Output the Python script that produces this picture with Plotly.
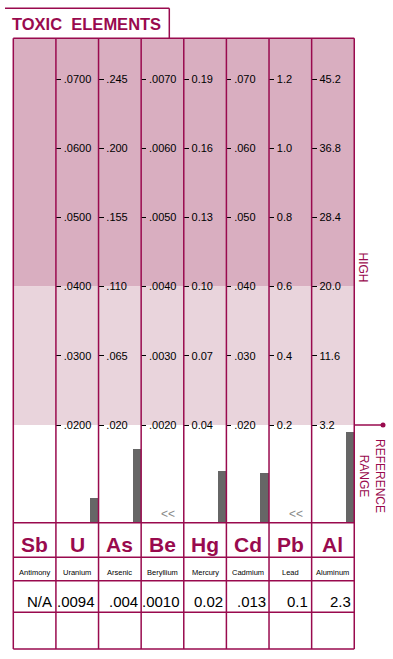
import plotly.graph_objects as go

# ---------------- data ----------------
symbols = ["Sb", "U", "As", "Be", "Hg", "Cd", "Pb", "Al"]
names = ["Antimony", "Uranium", "Arsenic", "Beryllium", "Mercury", "Cadmium", "Lead", "Aluminum"]
result_labels = ["N/A", ".0094", ".004", ".0010", "0.02", ".013", "0.1", "2.3"]
result_values = [None, 0.0094, 0.004, 0.0010, 0.02, 0.013, 0.1, 2.3]
below_range = [False, False, False, True, False, False, True, False]
scale_labels = [
    [],
    [".0200", ".0300", ".0400", ".0500", ".0600", ".0700"],
    [".020", ".065", ".110", ".155", ".200", ".245"],
    [".0020", ".0030", ".0040", ".0050", ".0060", ".0070"],
    ["0.04", "0.07", "0.10", "0.13", "0.16", "0.19"],
    [".020", ".030", ".040", ".050", ".060", ".070"],
    ["0.2", "0.4", "0.6", "0.8", "1.0", "1.2"],
    ["3.2", "11.6", "20.0", "28.4", "36.8", "45.2"],
]
title_text = "TOXIC  ELEMENTS"

# ---------------- layout constants ----------------
W, H = 393, 659
LEFT, COLW = 13.3, 42.62
NCOL = len(symbols)
RIGHT = LEFT + NCOL * COLW
TOP, BOTTOM = 38.3, 522.7
TICK0_PX, STEP_PX = 425.0, 69.2
ROWS = [522.7, 557.3, 580.7, 612.3, 649.0]

MAROON = "#990a4e"
DARK = "#d9aec0"
LIGHT = "#e9d4dc"
BAR = "#666666"
FONT = "Liberation Sans, Arial, sans-serif"


def px(x):
    return x / W


def py(y):
    return 1 - y / H


fig = go.Figure()
layout = dict(
    width=W, height=H, margin=dict(l=0, r=0, t=0, b=0),
    paper_bgcolor="white", plot_bgcolor="rgba(0,0,0,0)",
    showlegend=False, font=dict(family=FONT, color="black"),
)
shapes = []
annotations = []
ranges = []

for i, sym in enumerate(symbols):
    n = "" if i == 0 else str(i + 1)
    xd = [px(LEFT + i * COLW), px(LEFT + (i + 1) * COLW)]
    labels = scale_labels[i]
    if labels:
        vals = [float(l) for l in labels]
        t0, step = vals[0], vals[1] - vals[0]
        lo = t0 - (BOTTOM - TICK0_PX) / STEP_PX * step
        hi = t0 + (TICK0_PX - TOP) / STEP_PX * step
    else:
        vals, lo, hi = [], 0, 1
    ranges.append((vals, lo, hi))
    layout["xaxis" + n] = dict(
        domain=xd, anchor="y" + n, type="category", range=[-0.9, 0.1],
        showticklabels=False, ticks="", showgrid=False, zeroline=False, showline=False,
        fixedrange=True,
    )
    layout["yaxis" + n] = dict(
        domain=[py(BOTTOM), py(TOP)], anchor="x" + n, range=[lo, hi],
        tickmode="array", tickvals=vals, ticktext=labels, ticks="inside" if labels else "",
        ticklen=5, tickwidth=1, tickcolor="black",
        ticklabelposition="inside", ticklabelstandoff=2,
        tickfont=dict(size=11, color="black", family=FONT),
        showgrid=False, zeroline=False, showline=False, showticklabels=bool(labels),
        fixedrange=True,
    )
    v = result_values[i]
    show_bar = v is not None and not below_range[i]
    fig.add_trace(go.Bar(
        x=[sym], y=[v - lo if show_bar else None], base=[lo], width=0.2,
        marker=dict(color=BAR, line=dict(width=0)),
        xaxis="x" + n, yaxis="y" + n, hoverinfo="skip",
    ))
    if below_range[i]:
        annotations.append(dict(
            text="<<", xref="x" + n + " domain", yref="y" + n + " domain",
            x=0.64, y=0.018, xanchor="center", yanchor="middle", showarrow=False,
            font=dict(size=12, color="#8a8a8a", family=FONT),
        ))

    cx = LEFT + (i + 0.5) * COLW
    annotations.append(dict(
        text="<b>%s</b>" % sym, xref="paper", yref="paper", x=px(cx), y=py(544.5),
        xanchor="center", yanchor="middle", showarrow=False,
        font=dict(size=21, color=MAROON, family=FONT),
    ))
    annotations.append(dict(
        text=names[i], xref="paper", yref="paper", x=px(cx), y=py(572),
        xanchor="center", yanchor="middle", showarrow=False,
        font=dict(size=7.5, color="black", family=FONT),
    ))
    annotations.append(dict(
        text=result_labels[i], xref="paper", yref="paper", x=px(LEFT + (i + 1) * COLW - 1.5), y=py(601.5),
        xanchor="right", yanchor="middle", showarrow=False,
        font=dict(size=15, color="black", family=FONT),
    ))

# shading bands tied to the uranium scale (ticks 0..2 light, above tick 2 dark)
uvals, ulo, uhi = ranges[1]
shapes.append(dict(type="rect", xref="paper", yref="y2", x0=px(LEFT), x1=px(RIGHT),
                   y0=uvals[2], y1=uhi, fillcolor=DARK, line=dict(width=0), layer="below"))
shapes.append(dict(type="rect", xref="paper", yref="y2", x0=px(LEFT), x1=px(RIGHT),
                   y0=uvals[0], y1=uvals[2], fillcolor=LIGHT, line=dict(width=0), layer="below"))

# grid lines of the table
LW = 1.5
for k in range(NCOL + 1):
    x = px(LEFT + k * COLW)
    shapes.append(dict(type="line", xref="paper", yref="paper", x0=x, x1=x,
                       y0=py(TOP), y1=py(ROWS[-1]), line=dict(color=MAROON, width=LW)))
for yy in [TOP] + ROWS:
    shapes.append(dict(type="line", xref="paper", yref="paper", x0=px(LEFT), x1=px(RIGHT),
                       y0=py(yy), y1=py(yy), line=dict(color=MAROON, width=LW)))

# title tab
shapes.append(dict(type="line", xref="paper", yref="paper", x0=px(5), x1=px(169.3),
                   y0=py(8.3), y1=py(8.3), line=dict(color=MAROON, width=LW)))
shapes.append(dict(type="line", xref="paper", yref="paper", x0=px(169.3), x1=px(169.3),
                   y0=py(8.3), y1=py(TOP), line=dict(color=MAROON, width=LW)))
annotations.append(dict(
    text="<b>%s</b>" % title_text, xref="paper", yref="paper", x=px(10), y=py(24.5),
    xanchor="left", yanchor="middle", showarrow=False,
    font=dict(size=16.5, color=MAROON, family=FONT),
))

# reference range marker
shapes.append(dict(type="line", xref="paper", yref="y2", x0=px(RIGHT), x1=px(383),
                   y0=uvals[0], y1=uvals[0], line=dict(color=MAROON, width=LW)))
shapes.append(dict(type="circle", xref="paper", yref="y2", xsizemode="pixel", ysizemode="pixel",
                   xanchor=px(383), yanchor=uvals[0], x0=-2.5, x1=2.5, y0=-2.5, y1=2.5,
                   fillcolor=MAROON, line=dict(width=0)))

annotations.append(dict(
    text="HIGH", xref="paper", yref="paper", x=px(363), y=py(267.5), textangle=90,
    xanchor="center", yanchor="middle", showarrow=False,
    font=dict(size=12, color=MAROON, family=FONT),
))
annotations.append(dict(
    text="REFERENCE<br>RANGE", xref="paper", yref="paper", x=px(372), y=py(476), textangle=90,
    xanchor="center", yanchor="middle", showarrow=False,
    font=dict(size=12, color=MAROON, family=FONT),
))

layout["shapes"] = shapes
layout["annotations"] = annotations
layout["bargap"] = 0
fig.update_layout(**layout)
fig.write_html(
    "out.html",
    config={"displayModeBar": False},
    post_script="document.body.style.margin='0';document.body.style.overflow='hidden';",
)
